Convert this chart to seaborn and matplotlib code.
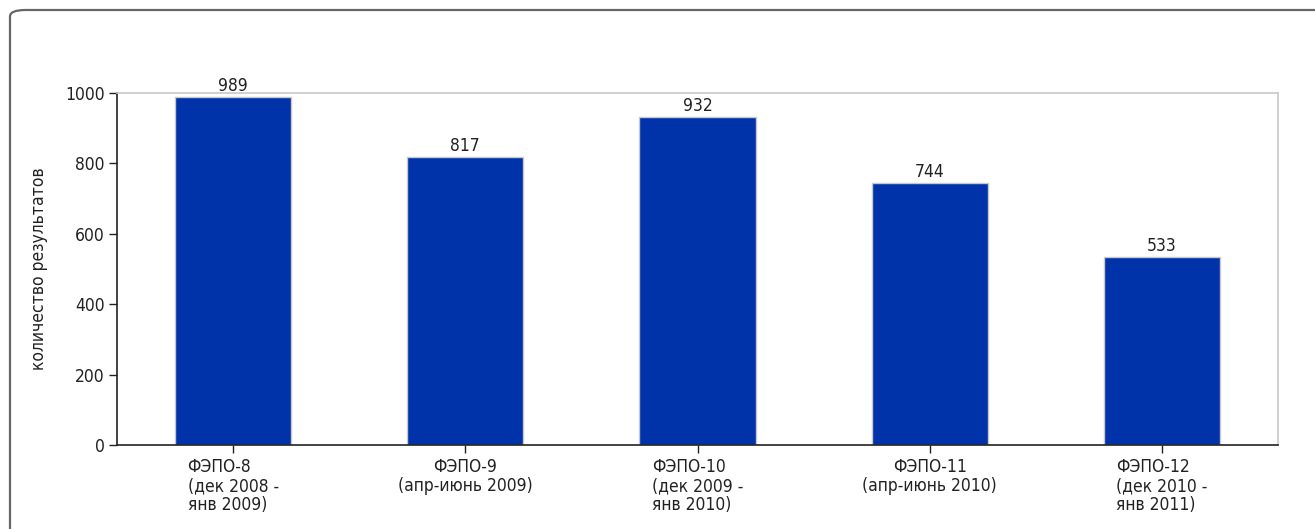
import matplotlib
matplotlib.use("Agg")
import matplotlib.pyplot as plt
import seaborn as sns
import pandas as pd
from matplotlib.patches import FancyBboxPatch

categories = ["ФЭПО-8\n(дек 2008 -\nянв 2009)",
              "ФЭПО-9\n(апр-июнь 2009)",
              "ФЭПО-10\n(дек 2009 -\nянв 2010)",
              "ФЭПО-11\n(апр-июнь 2010)",
              "ФЭПО-12\n(дек 2010 -\nянв 2011)"]
values = [989, 817, 932, 744, 533]
yticks = [0, 200, 400, 600, 800, 1000]
ylabel = "количество результатов"

sns.set_theme(style="white")
plt.rcParams['font.family'] = ['DejaVu Sans']
plt.rcParams['font.stretch'] = 'condensed'

FS = 12.5

df = pd.DataFrame({"cat": categories, "val": values})

fig = plt.figure(figsize=(13.15, 5.29), dpi=100)
ax = fig.add_axes([117/1315, 1-445/529, (1278-117)/1315, (445-93)/529])

sns.barplot(data=df, x="cat", y="val", color="#0033AA", saturation=1,
            width=0.5, edgecolor="#c8c8c8", linewidth=1, ax=ax)

ax.set_xlim(-0.5, len(categories) - 0.5)
ax.set_ylim(0, 1000)
ax.set_yticks(yticks)
ax.set_yticklabels([str(t) for t in yticks], fontsize=FS, color="#222222")
ax.set_xlabel("")
ax.set_ylabel(ylabel, fontsize=FS, color="#222222", labelpad=12)

for lab in ax.get_xticklabels():
    lab.set_fontsize(FS)
    lab.set_color("#222222")
    lab.set_linespacing(1.1)
    txt = lab.get_text()
    if "апр" in txt:
        lab.set_multialignment("center")
    else:
        lab.set_multialignment("left")

ax.tick_params(axis="both", which="major", direction="out", length=6, width=1,
               color="#222222", bottom=True, left=True, pad=3)

for side in ["left", "bottom"]:
    ax.spines[side].set_color("#222222")
    ax.spines[side].set_linewidth(1.2)
for side in ["top", "right"]:
    ax.spines[side].set_color("#c8c8c8")
    ax.spines[side].set_linewidth(1.2)

for i, v in enumerate(values):
    ax.text(i, v + 6, str(v), ha="center", va="bottom", fontsize=FS, color="#222222")

frame = FancyBboxPatch((10/1315, -0.2), 1.3, 1.2 - 10/529,
                       boxstyle="round,pad=0,rounding_size=0.012",
                       transform=fig.transFigure, fill=False,
                       edgecolor="#666666", linewidth=1.6, clip_on=False)
fig.patches.append(frame)

fig.savefig("out.png", dpi=100)
